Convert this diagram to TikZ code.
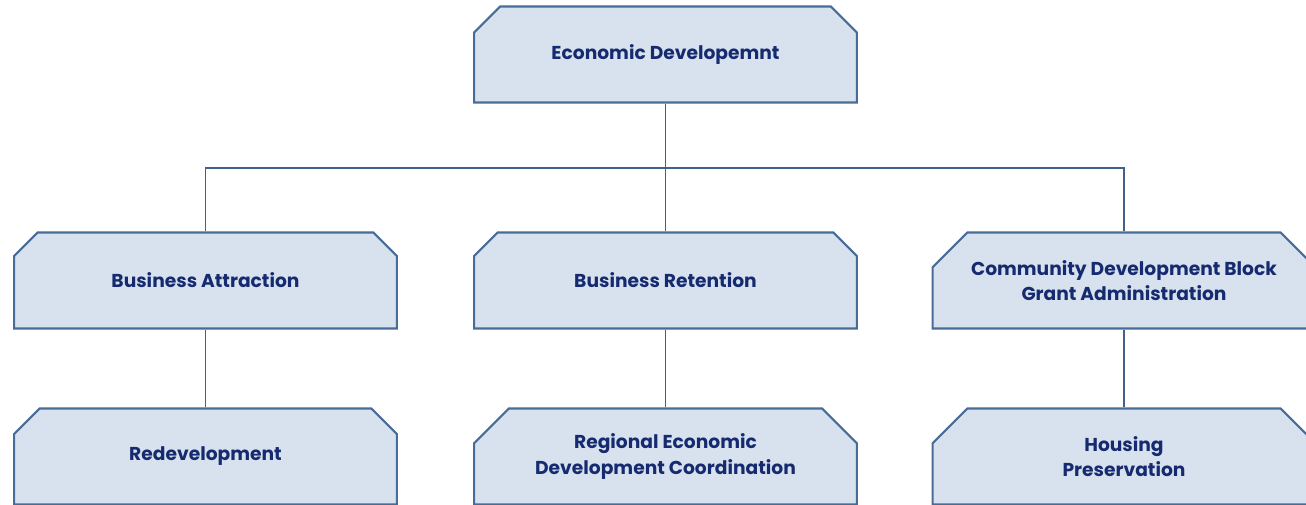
\documentclass[tikz,border=0pt]{standalone}
\usepackage{fontspec}
\setmainfont{Poppins}
\usetikzlibrary{shapes.misc}
\definecolor{edge}{RGB}{72,108,152}
\definecolor{boxfill}{RGB}{216,226,238}
\definecolor{ink}{RGB}{22,42,112}
\tikzset{
  x=0.75pt,y=-0.75pt,
  orgbox/.style={chamfered rectangle, chamfered rectangle corners={north west,north east},
    chamfered rectangle xsep=14pt, chamfered rectangle ysep=12pt,
    draw=edge, line width=1.6pt, fill=boxfill, minimum width=287pt, minimum height=72pt,
    inner sep=0pt, text=ink, font=\bfseries\fontsize{14}{19}\selectfont, align=center},
  conn/.style={draw=edge!90!black, line width=1.1pt}
}
\begin{document}
\begin{tikzpicture}
\useasboundingbox (0,0) rectangle (1306,505);
\clip (0,0) rectangle (1306,505);
\node[orgbox] (top) at (665.5,54.5) {Economic Developemnt};
\node[orgbox] (c1) at (205.5,280.5) {Business Attraction};
\node[orgbox] (c2) at (665.5,280.5) {Business Retention};
\node[orgbox] (c3) at (1124,280.5) {Community Development Block\\Grant Administration};
\node[orgbox] (g1) at (205.5,456.5) {Redevelopment};
\node[orgbox] (g2) at (665.5,456.5) {Regional Economic\\Development Coordination};
\node[orgbox] (g3) at (1124,456.5) {Housing\\Preservation};
\coordinate (bus) at (665.5,168);
\draw[conn] (top.south) -- (c2.north);
\draw[conn] (c1.north) |- (bus) -| (c3.north);
\draw[conn] (c1.south) -- (g1.north);
\draw[conn] (c2.south) -- (g2.north);
\draw[conn] (c3.south) -- (g3.north);
\end{tikzpicture}
\end{document}
